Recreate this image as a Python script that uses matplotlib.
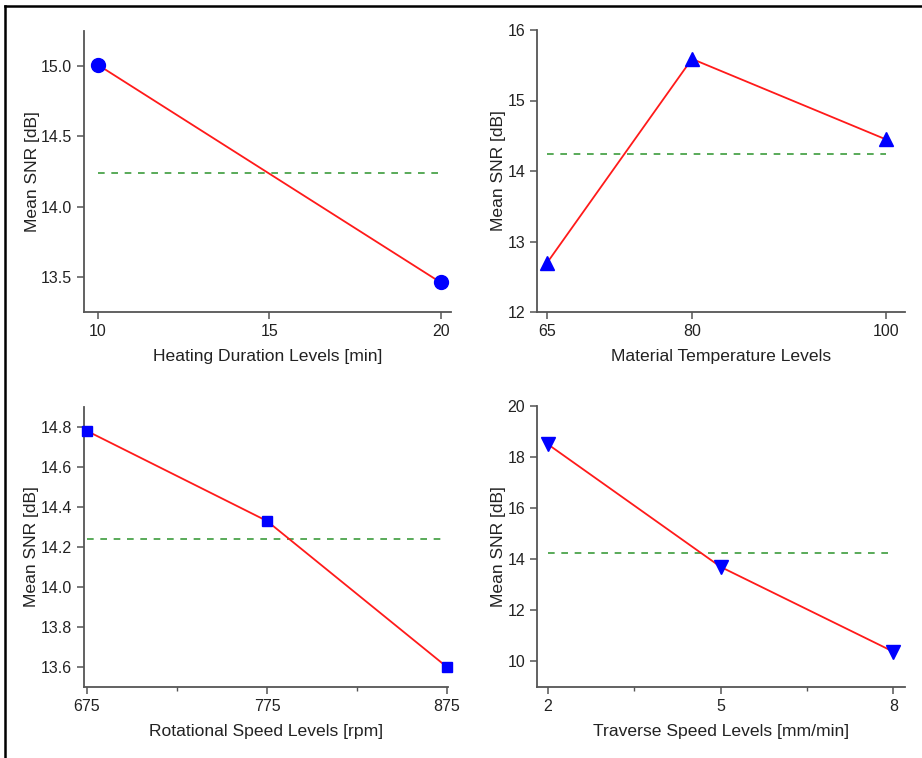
import matplotlib
matplotlib.use("Agg")
import matplotlib.pyplot as plt
from matplotlib.lines import Line2D
from matplotlib.ticker import FormatStrFormatter

plt.rcParams['font.family'] = ['Liberation Sans', 'DejaVu Sans']

# ---- data ----
heat_levels = [10, 20]
heat_snr = [15.01, 13.46]
heat_ticks = [10, 15, 20]
temp_levels = [65, 80, 100]
temp_snr = [12.69, 15.59, 14.45]
rot_levels = [675, 775, 875]
rot_snr = [14.78, 14.33, 13.60]
trav_levels = [2, 5, 8]
trav_snr = [18.50, 13.70, 10.38]
mean_snr = 14.24

xlabels = ["Heating Duration Levels [min]", "Material Temperature Levels",
           "Rotational Speed Levels [rpm]", "Traverse Speed Levels [mm/min]"]
ylabel = "Mean SNR [dB]"

W, H = 922, 758
fig = plt.figure(figsize=(W / 100, H / 100), dpi=100)

def ax_at(l, r, t, b):
    return fig.add_axes([l / W, 1 - b / H, (r - l) / W, (b - t) / H])

panels = [
    dict(box=(84, 451, 31, 312), x=heat_levels, y=heat_snr, marker='o', ms=10,
         xticks=heat_ticks,
         xlim=(9.6, 20.3), ylim=(13.25, 15.25), yticks=[13.5, 14.0, 14.5, 15.0],
         fmt='%.1f', xminor=[]),
    dict(box=(537, 905, 30, 312), x=temp_levels, y=temp_snr, marker='^', ms=10,
         xticks=temp_levels,
         xlim=(64.0, 102.0), ylim=(12, 16), yticks=[12, 13, 14, 15, 16],
         fmt='%d', xminor=[]),
    dict(box=(84, 448, 407, 687), x=rot_levels, y=rot_snr, marker='s', ms=6.5,
         xticks=rot_levels,
         xlim=(673.3, 875.6), ylim=(13.5, 14.9),
         yticks=[13.6, 13.8, 14.0, 14.2, 14.4, 14.6, 14.8], fmt='%.1f',
         xminor=[725, 825]),
    dict(box=(537, 905, 406, 687), x=trav_levels, y=trav_snr, marker='v', ms=10,
         xticks=trav_levels,
         xlim=(1.81, 8.2), ylim=(9, 20), yticks=[10, 12, 14, 16, 18, 20],
         fmt='%d', xminor=[3.5, 6.5]),
]

spine_col = '#555555'
for p, xl in zip(panels, xlabels):
    ax = ax_at(*p['box'])
    ax.plot([p['x'][0], p['x'][-1]], [mean_snr, mean_snr], color='#3c9c3c',
            lw=1.2, ls=(0, (4, 4)), zorder=1)
    ax.plot(p['x'], p['y'], color='#ff1a1a', lw=1.3, zorder=2)
    ax.plot(p['x'], p['y'], ls='none', marker=p['marker'], ms=p['ms'],
            color='#0000ff', mec='#0000ff', zorder=3, clip_on=False)
    ax.set_xlim(*p['xlim'])
    ax.set_ylim(*p['ylim'])
    ax.set_xticks(p['xticks'])
    ax.set_xticks(p['xminor'], minor=True)
    ax.set_yticks(p['yticks'])
    ax.yaxis.set_major_formatter(FormatStrFormatter(p['fmt']))
    for s in ['top', 'right']:
        ax.spines[s].set_visible(False)
    for s in ['left', 'bottom']:
        ax.spines[s].set_color(spine_col)
        ax.spines[s].set_linewidth(1.3)
    ax.tick_params(axis='both', which='major', direction='out', length=5,
                   width=1.1, color=spine_col, labelsize=11.5, labelcolor='#222222')
    ax.tick_params(axis='x', which='minor', direction='out', length=3,
                   width=1.0, color=spine_col)
    ax.set_xlabel(xl, fontsize=12.6, color='#222222', labelpad=7)
    ax.set_ylabel(ylabel, fontsize=12.6, color='#222222', labelpad=1)
    ax.set_facecolor('white')

# outer frame (top and left edges)
fig.add_artist(Line2D([5 / W, 1], [1 - 6 / H, 1 - 6 / H], color='black', lw=1.8,
                      transform=fig.transFigure))
fig.add_artist(Line2D([5 / W, 5 / W], [0, 1 - 6 / H], color='black', lw=1.8,
                      transform=fig.transFigure))

fig.savefig("out.png", dpi=100)
